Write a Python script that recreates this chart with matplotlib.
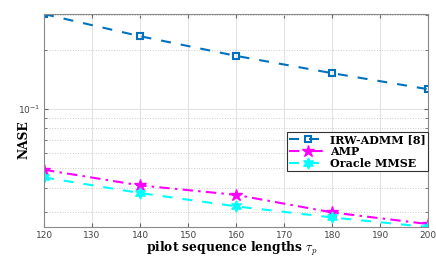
import matplotlib
matplotlib.use("Agg")
import matplotlib.pyplot as plt
from matplotlib.ticker import FixedLocator, NullFormatter, LogLocator

tau = [120, 140, 160, 180, 200]
irw_admm = [0.303, 0.234, 0.186, 0.152, 0.126]
amp = [0.0492, 0.041, 0.0367, 0.0299, 0.0261]
oracle = [0.045, 0.0375, 0.0321, 0.0282, 0.0252]
labels = ["IRW-ADMM [8]", "AMP", "Oracle MMSE"]
xticks = [120, 130, 140, 150, 160, 170, 180, 190, 200]

plt.rcParams['mathtext.fontset'] = 'cm'

fig = plt.figure(figsize=(4.36, 2.56), dpi=100)
ax = fig.add_axes([0.101, 0.113, 0.881, 0.832])

ax.plot(tau, irw_admm, color='#0072BD', linestyle=(0, (4.8, 4.8)), linewidth=1.5,
        marker='s', markersize=4.5, markerfacecolor='none', markeredgewidth=1.5,
        label=labels[0])
ax.plot(tau, amp, color='#FF00FF', linestyle=(0, (5, 2.5, 1.2, 2.5)), linewidth=1.5,
        marker='*', markersize=9, label=labels[1])
ax.plot(tau, oracle, color='#00FFFF', linestyle=(0, (4.8, 4.8)), linewidth=1.5,
        marker=(6, 1, 0), markersize=8, label=labels[2])

ax.set_yscale('log')
ax.set_xlim(120, 200)
ax.set_ylim(min(oracle), max(irw_admm))
ax.set_xticks(xticks)
ax.yaxis.set_major_locator(FixedLocator([0.1]))
ax.yaxis.set_minor_locator(LogLocator(base=10, subs=range(2, 10)))
ax.yaxis.set_minor_formatter(NullFormatter())

ax.grid(True, which='major', color='#e3e3e3', linewidth=0.8, linestyle='-')
ax.grid(True, which='minor', axis='y', color='#cccccc', linewidth=0.7, linestyle=':')
ax.set_axisbelow(True)

for s in ax.spines.values():
    s.set_color('#8a8a8a')
    s.set_linewidth(0.8)
ax.tick_params(which='both', direction='in', top=True, right=True, colors='#666666',
               labelsize=6.5, labelcolor='#444444', length=3, pad=3)
ax.tick_params(which='minor', length=2)

ax.set_xlabel(r'pilot sequence lengths $\tau_p$', family='DejaVu Serif',
              fontweight='bold', fontsize=8.8)
ax.xaxis.set_label_coords(0.49, -0.058)
ax.set_ylabel('NASE', family='DejaVu Serif', fontweight='bold', fontsize=8.8)
ax.yaxis.set_label_coords(-0.034, 0.41)

leg = ax.legend(loc='upper right', bbox_to_anchor=(1.0, 0.448), frameon=True,
                fancybox=False, edgecolor='#333333', framealpha=1,
                prop={'family': 'DejaVu Serif', 'weight': 'bold', 'size': 8},
                handlelength=3.4, handletextpad=0.3, borderpad=0.2,
                labelspacing=0.1, borderaxespad=0)
leg.get_frame().set_linewidth(0.8)

fig.savefig('out.png', dpi=100)
